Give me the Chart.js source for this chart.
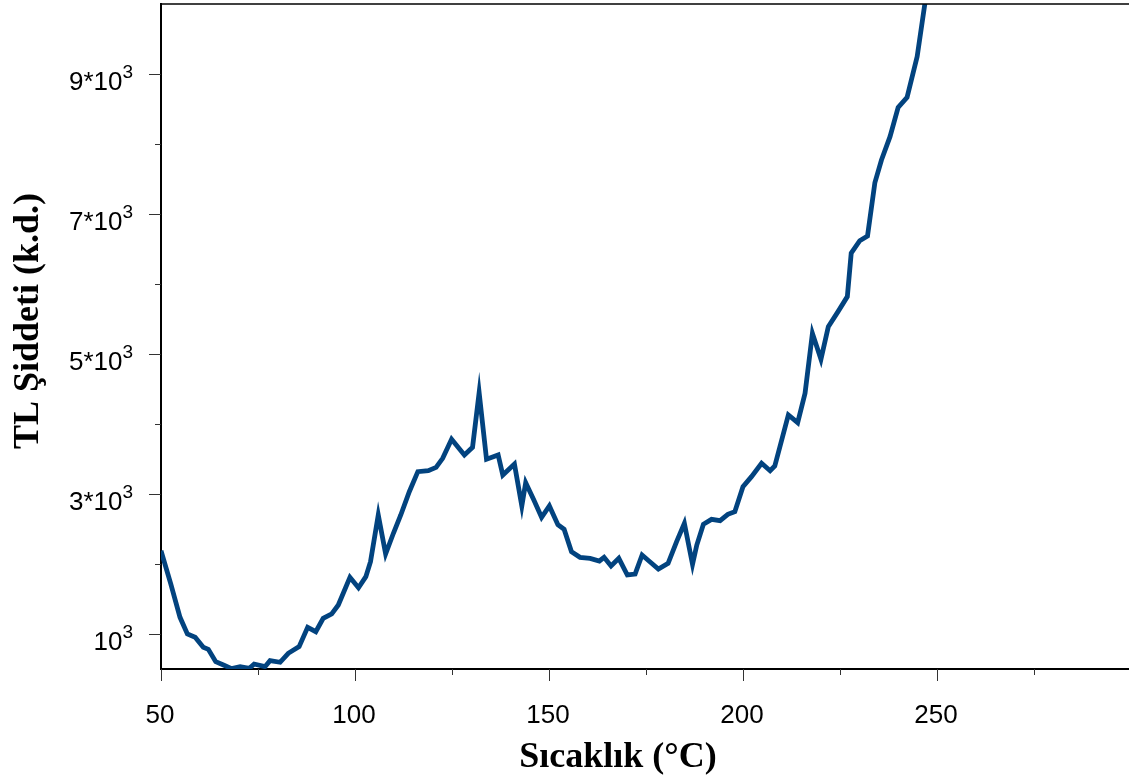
<!DOCTYPE html>
<html>
<head>
<meta charset="utf-8">
<script src="https://cdn.jsdelivr.net/npm/chart.js@4.4.1/dist/chart.umd.min.js"></script>
<style>
  html, body { margin: 0; padding: 0; background: #fff; }
  #wrap { width: 1129px; height: 782px; }
</style>
</head>
<body>
<div id="wrap"><canvas id="tlChart" width="1129" height="782"></canvas></div>
<script>
// temperature (°C) and TL intensity
const temps = [
  50, 52.5, 54.9, 56.8, 58.8, 60.9, 62.2, 64.1, 66.1, 68.2,
  70.4, 72.8, 74, 76.8, 78.1, 80.7, 82.8, 85.6, 87.8, 89.9,
  91.8, 94, 95.7, 98.7, 100.9, 102.8, 104, 106, 107.9, 109.9,
  111.8, 114, 116.2, 118.9, 120.9, 122.6, 124.9, 128.2, 130.3, 132,
  133.9, 136.9, 138.1, 141.1, 143, 144, 146.1, 148.1, 150.1, 152.3,
  153.9, 155.8, 158, 160.6, 163, 164.2, 166, 168, 170.2, 172.2,
  174, 176, 178.2, 180.7, 182.9, 184.9, 187, 188.1, 189.8, 191.9,
  194.1, 196.1, 197.9, 200, 202.2, 204.8, 207, 208.2, 211.7, 214.1,
  216, 217.9, 220.1, 222, 224.5, 226.9, 227.9, 230.1, 232.1, 234,
  235.7, 237.9, 240, 242.3, 244.9, 246.9, 248
];
const intensity = [
  2190, 1720, 1238, 1000, 953, 810, 781, 605, 557, 505,
  533, 510, 571, 533, 619, 596, 724, 819, 1096, 1033,
  1224, 1286, 1414, 1810, 1660, 1819, 2033, 2700, 2143, 2439,
  2700, 3033, 3319, 3333, 3381, 3510, 3781, 3557, 3667, 4448,
  3496, 3557, 3271, 3429, 2829, 3162, 2914, 2667, 2829, 2560,
  2495, 2176, 2095, 2081, 2043, 2095, 1971, 2081, 1843, 1857,
  2129, 2033, 1929, 2010, 2319, 2581, 1995, 2271, 2567, 2638,
  2619, 2710, 2748, 3105, 3248, 3439, 3333, 3400, 4129, 4019,
  4438, 5295, 4924, 5390, 5605, 5820, 6440, 6619, 6686, 7448,
  7771, 8105, 8524, 8667, 9248, 10010, 10700
];

const xMajor = [50, 100, 150, 200, 250];
const xMinor = [75, 125, 175, 225, 275];
const xLabels = ['50', '100', '150', '200', '250'];
const yMajor = [1000, 3000, 5000, 7000, 9000];
const yMinor = [2000, 4000, 6000, 8000];
const yLabels = [['10', '3'], ['3*10', '3'], ['5*10', '3'], ['7*10', '3'], ['9*10', '3']];

const xTitle = 'Sıcaklık (°C)';
const yTitle = 'TL Şiddeti (k.d.)';

const SANS = '"Liberation Sans", Arial, sans-serif';
const SERIF = '"Liberation Serif", "Times New Roman", serif';

// ticks, tick labels with superscripts, frame top and axis titles
const decor = {
    id: 'decor',
    afterDraw(chart) {
        const ctx = chart.ctx;
        const xs = chart.scales.x, ys = chart.scales.y;
        const area = chart.chartArea;
        ctx.save();

        // top frame line
        ctx.strokeStyle = '#000';
        ctx.lineWidth = 1.5;
        ctx.beginPath();
        ctx.moveTo(area.left, area.top);
        ctx.lineTo(area.right, area.top);
        ctx.stroke();

        // tick marks
        ctx.strokeStyle = '#333';
        ctx.lineWidth = 1;
        const tick = (x1, y1, x2, y2) => {
            ctx.beginPath(); ctx.moveTo(x1, y1); ctx.lineTo(x2, y2); ctx.stroke();
        };
        xMajor.forEach(v => { const p = Math.round(xs.getPixelForValue(v)) + 0.5; tick(p, area.bottom, p, area.bottom + 12); });
        xMinor.forEach(v => { const p = Math.round(xs.getPixelForValue(v)) + 0.5; tick(p, area.bottom, p, area.bottom + 6); });
        yMajor.forEach(v => { const p = Math.round(ys.getPixelForValue(v)) + 0.5; tick(area.left - 12, p, area.left, p); });
        yMinor.forEach(v => { const p = Math.round(ys.getPixelForValue(v)) + 0.5; tick(area.left - 6, p, area.left, p); });

        // x tick labels
        ctx.fillStyle = '#000';
        ctx.font = '26px ' + SANS;
        ctx.textAlign = 'center';
        ctx.textBaseline = 'alphabetic';
        xMajor.forEach((v, i) => ctx.fillText(xLabels[i], xs.getPixelForValue(v) - 1, area.bottom + 54));

        // y tick labels, "n*10" plus a raised 3
        ctx.textAlign = 'left';
        yMajor.forEach((v, i) => {
            const p = ys.getPixelForValue(v);
            const [base, sup] = yLabels[i];
            ctx.font = '19px ' + SANS;
            const ws = ctx.measureText(sup).width;
            ctx.font = '26px ' + SANS;
            const wb = ctx.measureText(base).width;
            const right = area.left - 28;
            ctx.fillText(base, right - ws - wb, p + 16);
            ctx.font = '19px ' + SANS;
            ctx.fillText(sup, right - ws, p + 4);
        });

        // axis titles
        ctx.font = 'bold 36px ' + SERIF;
        ctx.textAlign = 'center';
        ctx.fillText(xTitle, 618, 767);
        ctx.translate(38, 321);
        ctx.rotate(-Math.PI / 2);
        ctx.fillText(yTitle, 0, 0);
        ctx.restore();
    }
};

new Chart(document.getElementById('tlChart'), {
    type: 'line',
    data: {
        datasets: [{
            data: temps.map((t, i) => ({ x: t, y: intensity[i] })),
            borderColor: '#02437f',
            borderWidth: 4.8,
            pointRadius: 0,
            tension: 0,
            fill: false
        }]
    },
    options: {
        responsive: false,
        animation: false,
        devicePixelRatio: 1,
        layout: { padding: { left: 0, right: 0, top: 4, bottom: 0 } },
        plugins: { legend: { display: false }, tooltip: { enabled: false } },
        scales: {
            x: {
                type: 'linear',
                min: 50,
                max: 299.5,
                grid: { display: false, drawTicks: false },
                border: { display: true, color: '#000', width: 2 },
                ticks: { display: false },
                afterFit: s => { s.height = 782 - 669; }
            },
            y: {
                type: 'linear',
                min: 500,
                max: 10000,
                grid: { display: false, drawTicks: false },
                border: { display: true, color: '#000', width: 2 },
                ticks: { display: false },
                afterFit: s => { s.height; s.width = 161; }
            }
        }
    },
    plugins: [decor]
});
</script>
</body>
</html>
